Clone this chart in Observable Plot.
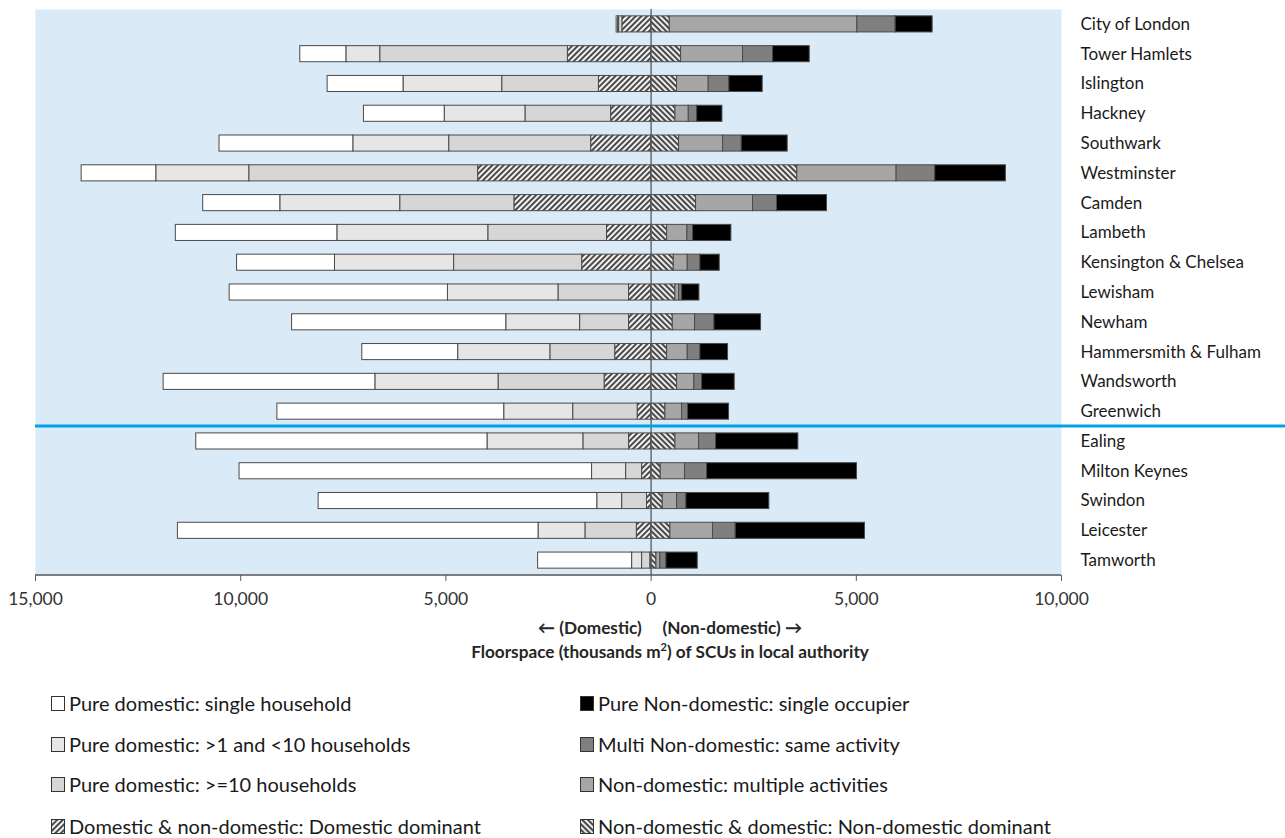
<!DOCTYPE html>
<html>
<head>
<meta charset="utf-8">
<script src="https://cdn.jsdelivr.net/npm/d3@7"></script>
<script src="https://cdn.jsdelivr.net/npm/@observablehq/plot@0.6"></script>
<style>
  body { margin:0; background:#fff; font-family: Lato, "Open Sans", sans-serif; }
  #wrap { position:relative; width:1285px; height:838px; }
  .atitle { position:absolute; left:55px; width:1230px; text-align:center; font-weight:bold; font-size:17.2px; color:#262626; white-space:pre; }
  .leg { position:absolute; font-size:20px; color:#1a1a1a; display:flex; align-items:center; white-space:nowrap; }
  .leg svg { margin-right:4px; }
</style>
</head>
<body>
<div id="wrap"></div>
<script>
const authorities = ["City of London","Tower Hamlets","Islington","Hackney","Southwark","Westminster","Camden","Lambeth","Kensington & Chelsea","Lewisham","Newham","Hammersmith & Fulham","Wandsworth","Greenwich","Ealing","Milton Keynes","Swindon","Leicester","Tamworth"];

// Domestic (drawn to the left), thousands m²
const singleHousehold   = [30,1123,1849,1968,3260,1819,1879,3936,2386,5318,5219,2336,5159,5527,7097,8589,6789,8787,2290];
const fewHouseholds     = [30,825,2405,1968,2336,2266,2922,3678,2902,2694,1799,2246,3002,1680,2336,830,606,1143,243];
const manyHouseholds    = [80,4572,2356,2087,3459,5576,2783,2893,3121,1720,1193,1580,2584,1571,1113,390,606,1252,200];
const domesticDominant  = [700,2028,1272,974,1461,4215,3330,1074,1680,537,537,875,1133,328,537,219,100,348,20];
// Non-domestic (drawn to the right)
const nonDomDominant    = [455,731,633,593,682,3563,1096,390,552,593,528,390,633,349,593,235,284,471,130];
const multipleActivities= [4570,1510,771,325,1071,2419,1388,495,341,89,544,503,422,406,576,593,349,1039,97];
const sameActivity      = [934,731,503,203,455,942,584,138,308,73,471,308,187,146,414,536,227,552,146];
const singleOccupier    = [901,893,812,617,1120,1721,1218,933,471,422,1136,674,795,998,2005,3653,2021,3149,763];

const xTicks = [-15000,-10000,-5000,0,5000,10000];

const series = [
  {key:"Domestic & non-domestic: Domestic dominant", values:domesticDominant, sign:-1, fill:"url(#hatchDom)"},
  {key:"Pure domestic: >=10 households", values:manyHouseholds, sign:-1, fill:"#D6D6D6"},
  {key:"Pure domestic: >1 and <10 households", values:fewHouseholds, sign:-1, fill:"#E6E6E6"},
  {key:"Pure domestic: single household", values:singleHousehold, sign:-1, fill:"#FFFFFF"},
  {key:"Non-domestic & domestic: Non-domestic dominant", values:nonDomDominant, sign:1, fill:"url(#hatchNon)"},
  {key:"Non-domestic: multiple activities", values:multipleActivities, sign:1, fill:"#A6A6A6"},
  {key:"Multi Non-domestic: same activity", values:sameActivity, sign:1, fill:"#7F7F7F"},
  {key:"Pure Non-domestic: single occupier", values:singleOccupier, sign:1, fill:"#000000"}
];
const fillOf = Object.fromEntries(series.map(s => [s.key, s.fill]));

const rows = [];
for (const s of series) authorities.forEach((a,i) => rows.push({name:a, cat:s.key, value:s.sign*s.values[i]}));

const fmt = d3.format(",");

const plot = Plot.plot({
  width:1285, height:615,
  marginLeft:35, marginRight:224, marginTop:9, marginBottom:40,
  style:{fontFamily:"Lato, 'Open Sans', sans-serif", fontSize:"17px", color:"#404040", background:"white", overflow:"visible"},
  x:{domain:[-15000,10000], label:null},
  y:{domain:authorities, paddingInner:0.46, paddingOuter:0.23, round:false, label:null},
  marks:[
    Plot.frame({fill:"#DAEAF6", stroke:"none"}),
    Plot.barX(rows, Plot.stackX({x:"value", y:"name", z:"cat", fill:d => fillOf[d.cat], stroke:"#4a4a4a", strokeWidth:1})),
    Plot.ruleX([0], {stroke:"#595959", strokeWidth:1.3}),
    Plot.axisX({ticks:xTicks, tickFormat:d => fmt(Math.abs(d)), tickSize:6, tickPadding:11, fontSize:17.5, stroke:"#595959", fill:"#333"}),
    Plot.axisY({anchor:"right", tickSize:0, tickPadding:19, fontSize:17, fill:"#1a1a1a"})
  ]
});

const svg = d3.select(plot);
const defs = svg.insert("defs", ":first-child");
function hatch(id, angle, bg) {
  const p = defs.append("pattern").attr("id", id).attr("patternUnits","userSpaceOnUse")
    .attr("width",4).attr("height",4).attr("patternTransform",`rotate(${angle})`);
  p.append("rect").attr("width",4).attr("height",4).attr("fill",bg);
  p.append("line").attr("x1",1).attr("y1",0).attr("x2",1).attr("y2",4).attr("stroke","#111").attr("stroke-width",1.5);
}
hatch("hatchDom", 45, "#F2F2F2");
hatch("hatchNon", -45, "#EBEBEB");

// axis base line and separator from the scales
const xs = plot.scale("x"), ys = plot.scale("y");
const bw = ys.bandwidth ?? 16;
const yBottom = 615 - 40;
svg.append("line").attr("x1", xs.range[0]).attr("x2", xs.range[1]).attr("y1", yBottom).attr("y2", yBottom)
  .attr("stroke","#595959").attr("stroke-width",1.3);
const ySep = (ys.apply("Greenwich") + bw + ys.apply("Ealing")) / 2;
svg.append("line").attr("x1", xs.range[0]).attr("x2", 1285).attr("y1", ySep).attr("y2", ySep)
  .attr("stroke","#00A2E8").attr("stroke-width",3);

const wrap = document.getElementById("wrap");
wrap.appendChild(plot);
plot.style.position = "absolute"; plot.style.left = "0"; plot.style.top = "0";

const t1 = document.createElement("div"); t1.className = "atitle"; t1.style.top = "617px";
t1.textContent = "\u2190 (Domestic)     (Non-domestic) \u2192"; wrap.appendChild(t1);
const t2 = document.createElement("div"); t2.className = "atitle"; t2.style.top = "640px";
t2.innerHTML = "Floorspace (thousands m<sup style='font-size:11px'>2</sup>) of SCUs in local authority"; wrap.appendChild(t2);

const legendLeft = ["Pure domestic: single household","Pure domestic: >1 and <10 households","Pure domestic: >=10 households","Domestic & non-domestic: Domestic dominant"];
const legendRight = ["Pure Non-domestic: single occupier","Multi Non-domestic: same activity","Non-domestic: multiple activities","Non-domestic & domestic: Non-domestic dominant"];
const legTops = [703, 744, 784, 826];
function addLeg(label, x, yc) {
  const d = document.createElement("div"); d.className = "leg";
  d.style.left = x + "px"; d.style.top = (yc - 13) + "px"; d.style.height = "26px";
  d.innerHTML = `<svg width="14" height="15"><rect x="0.5" y="0.5" width="13" height="14" fill="${fillOf[label]}" stroke="#333" stroke-width="1"/></svg><span>${label.replace(/&/g,"&amp;").replace(/</g,"&lt;").replace(/>/g,"&gt;")}</span>`;
  wrap.appendChild(d);
}
legendLeft.forEach((l,i) => addLeg(l, 51, legTops[i]));
legendRight.forEach((l,i) => addLeg(l, 580, legTops[i]));
</script>
</body>
</html>
